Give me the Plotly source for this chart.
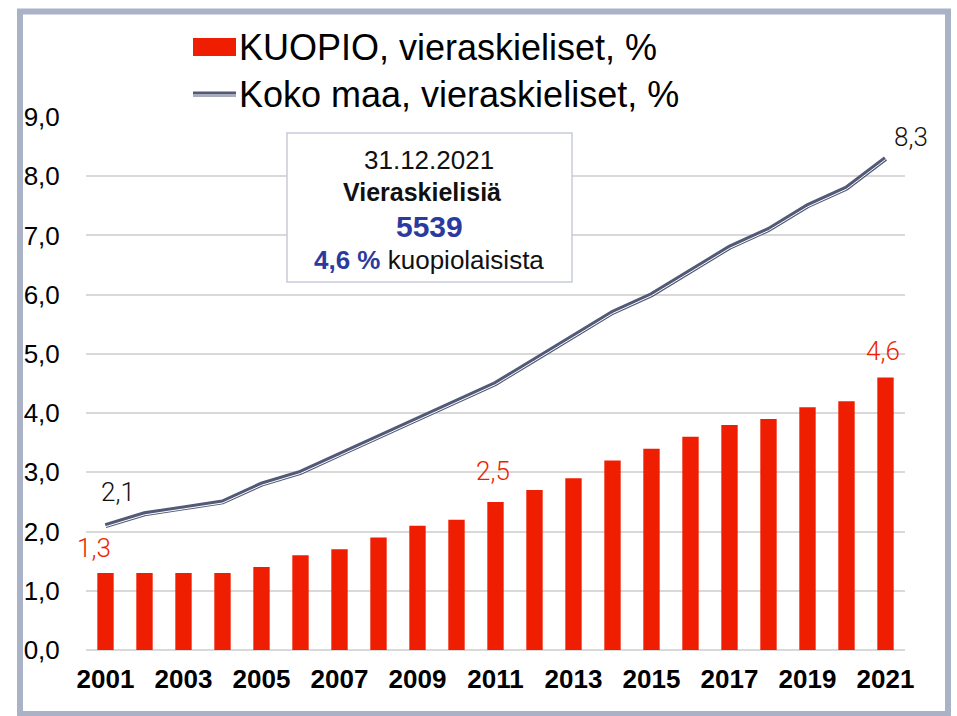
import plotly.graph_objects as go

# ---------------- data ----------------
years = [2001, 2002, 2003, 2004, 2005, 2006, 2007, 2008, 2009, 2010, 2011,
         2012, 2013, 2014, 2015, 2016, 2017, 2018, 2019, 2020, 2021]
kuopio = [1.3, 1.3, 1.3, 1.3, 1.4, 1.6, 1.7, 1.9, 2.1, 2.2, 2.5,
          2.7, 2.9, 3.2, 3.4, 3.6, 3.8, 3.9, 4.1, 4.2, 4.6]
koko_maa = [2.1, 2.3, 2.4, 2.5, 2.8, 3.0, 3.3, 3.6, 3.9, 4.2, 4.5,
            4.9, 5.3, 5.7, 6.0, 6.4, 6.8, 7.1, 7.5, 7.8, 8.3]
tick_years = [2001, 2003, 2005, 2007, 2009, 2011, 2013, 2015, 2017, 2019, 2021]
tick_labels = [str(y) for y in tick_years]
series_names = ["KUOPIO, vieraskieliset, %", "Koko maa, vieraskieliset, %"]
kuopio_labelled = [2001, 2011, 2021]
koko_labelled = [2001, 2021]
info_lines = ["31.12.2021", "Vieraskielisiä", "5539", "4,6 %", "kuopiolaisista"]

# ---------------- styles ----------------
W, H = 957, 716
L, R, T, B = 86, 52, 117, 66
RED = "#F01E00"
LINE = "#525a77"
BLUE = "#2B3A9E"
FONT = "Liberation Sans, Arial, sans-serif"
LABEL_FONT = "Roboto, Liberation Sans, sans-serif"

pw = W - L - R
ph = H - T - B


def px(x):
    return (x - L) / pw


def py(y):
    return (H - B - y) / ph


fig = go.Figure()

fig.add_trace(go.Bar(
    x=years, y=kuopio, name=series_names[0], width=0.42,
    marker=dict(color=RED, line=dict(width=0)),
    showlegend=False, hoverinfo="x+y"))

fig.add_trace(go.Scatter(
    x=years, y=koko_maa, name=series_names[1], mode="lines",
    line=dict(color=LINE, width=5), showlegend=False))
fig.add_trace(go.Scatter(
    x=years, y=[v - 0.018 for v in koko_maa], mode="lines",
    line=dict(color="white", width=1), showlegend=False, hoverinfo="skip"))

shapes = []
annotations = []

# outer frame
shapes.append(dict(type="rect", xref="paper", yref="paper",
                   x0=px(20), x1=px(948), y0=py(714), y1=py(11.5),
                   line=dict(color="#aab2c8", width=6), layer="below"))

# custom legend
shapes.append(dict(type="rect", xref="paper", yref="paper",
                   x0=px(193), x1=px(236), y0=py(56), y1=py(38),
                   fillcolor=RED, line=dict(width=0)))
shapes.append(dict(type="line", xref="paper", yref="paper",
                   x0=px(193), x1=px(236), y0=py(94), y1=py(94),
                   line=dict(color=LINE, width=5)))
shapes.append(dict(type="line", xref="paper", yref="paper",
                   x0=px(193), x1=px(236), y0=py(95), y1=py(95),
                   line=dict(color="white", width=1)))
annotations.append(dict(xref="paper", yref="paper", x=px(237), y=py(47),
                        xanchor="left", yanchor="middle", showarrow=False,
                        text=series_names[0],
                        font=dict(family=FONT, size=36, color="black")))
annotations.append(dict(xref="paper", yref="paper", x=px(237), y=py(95),
                        xanchor="left", yanchor="middle", showarrow=False,
                        text=series_names[1],
                        font=dict(family=FONT, size=36, color="black")))

# info box
shapes.append(dict(type="rect", xref="paper", yref="paper",
                   x0=px(287), x1=px(572), y0=py(282), y1=py(133),
                   fillcolor="white", line=dict(color="#c8ccd9", width=1.5),
                   layer="above"))
cx = px(429)
annotations.append(dict(xref="paper", yref="paper", x=cx, y=py(160),
                        xanchor="center", yanchor="middle",
                        showarrow=False, text=info_lines[0],
                        font=dict(family=FONT, size=26, color="#111111")))
annotations.append(dict(xref="paper", yref="paper", x=px(422), y=py(192),
                        xanchor="center", yanchor="middle",
                        showarrow=False, text="<b>" + info_lines[1] + "</b>",
                        font=dict(family=FONT, size=25, color="#111111")))
annotations.append(dict(xref="paper", yref="paper", x=cx, y=py(226),
                        xanchor="center", yanchor="middle",
                        showarrow=False, text="<b>" + info_lines[2] + "</b>",
                        font=dict(family=FONT, size=30, color=BLUE)))
annotations.append(dict(xref="paper", yref="paper", x=cx, y=py(260),
                        xanchor="center", yanchor="middle",
                        showarrow=False,
                        text="<b><span style='color:%s'>%s</span></b> %s"
                        % (BLUE, info_lines[3], info_lines[4]),
                        font=dict(family=FONT, size=26, color="#111111")))

# data labels
def fmt(v):
    return ("%.1f" % v).replace(".", ",")

k_shift = {2001: (-12, 8), 2011: (-3, 14), 2021: (-3, 10)}
for yr in kuopio_labelled:
    v = kuopio[years.index(yr)]
    dx, dy = k_shift[yr]
    annotations.append(dict(x=yr, y=v, xref="x", yref="y", showarrow=False,
                            text=fmt(v), xshift=dx, yshift=dy, yanchor="bottom",
                            font=dict(family=LABEL_FONT, size=26, color=RED, weight=300)))
m_shift = {2001: (12, 17), 2021: (25, 4)}
for yr in koko_labelled:
    v = koko_maa[years.index(yr)]
    dx, dy = m_shift[yr]
    annotations.append(dict(x=yr, y=v, xref="x", yref="y", showarrow=False,
                            text=fmt(v), xshift=dx, yshift=dy, yanchor="bottom",
                            font=dict(family=LABEL_FONT, size=26, color="#111111", weight=300)))

fig.update_layout(
    width=W, height=H,
    margin=dict(l=L, r=R, t=T, b=B, pad=0),
    paper_bgcolor="white", plot_bgcolor="white",
    separators=", ",
    showlegend=False,
    bargap=0.5,
    shapes=shapes,
    annotations=annotations,
    xaxis=dict(range=[2000.5, 2021.5], tickmode="array", tickvals=tick_years,
               ticktext=tick_labels, showgrid=False, zeroline=False,
               showline=False, ticks="outside", ticklen=6,
               tickcolor="rgba(0,0,0,0)",
               tickfont=dict(family=FONT, size=26, color="black", weight="bold")),
    yaxis=dict(range=[0, 9], dtick=1, tickformat=".1f", showgrid=True,
               gridcolor="#d9d9d9", gridwidth=2, zeroline=True,
               zerolinecolor="#d9d9d9", zerolinewidth=2, showline=False,
               ticks="outside", ticklen=20, tickcolor="rgba(0,0,0,0)",
               tickfont=dict(family=FONT, size=26, color="black")),
)

fig.write_html("out.html",
               config={"displayModeBar": False},
               post_script="document.body.style.margin='0';"
                           "document.body.style.overflow='hidden';")
